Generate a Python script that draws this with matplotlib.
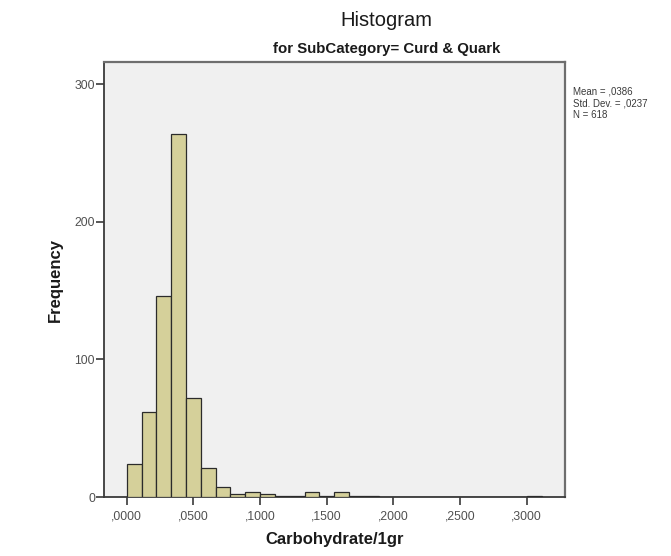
import numpy as np
import matplotlib
matplotlib.use("Agg")
import matplotlib.pyplot as plt

plt.rcParams['font.family'] = ['Liberation Sans', 'DejaVu Sans']

# histogram bins: first edge and width in g carbohydrate per g product
bin_start = 0.0
bin_width = 0.01112
counts = [24, 62, 146, 264, 72, 21, 7, 2, 4, 2,
          1, 1, 4, 1, 4, 1, 1, 0, 0, 0,
          0, 0, 0, 0, 0, 0, 0, 1]

x_ticks = [0.0, 0.05, 0.10, 0.15, 0.20, 0.25, 0.30]
x_ticklabels = [",0000", ",0500", ",1000", ",1500", ",2000", ",2500", ",3000"]
y_ticks = [0, 100, 200, 300]

stats_lines = ["Mean = ,0386", "Std. Dev. = ,0237", "N = 618"]

fig = plt.figure(figsize=(6.71, 5.56), dpi=100)
fig.patch.set_facecolor('white')
ax = fig.add_axes([0.155, 0.106, 0.687, 0.7825])
ax.set_facecolor('#f0f0f0')

lefts = bin_start + np.arange(len(counts)) * bin_width
ax.bar(lefts, counts, width=bin_width, align='edge',
       color='#d5d09a', edgecolor='#2b2b2b', linewidth=0.9, zorder=3)

ax.set_xlim(-0.017, 0.3287)
ax.set_ylim(0, 316)
ax.set_xticks(x_ticks)
ax.set_xticklabels(x_ticklabels)
ax.set_yticks(y_ticks)

ax.tick_params(axis='both', direction='out', length=5.5, width=1.2,
               color='#3a3a3a', labelsize=8.8, labelcolor='#505050', pad=1)
ax.tick_params(axis='x', pad=4)

for side in ['left', 'bottom']:
    ax.spines[side].set_color('#3a3a3a')
    ax.spines[side].set_linewidth(1.3)
for side in ['top', 'right']:
    ax.spines[side].set_color('#6e6e6e')
    ax.spines[side].set_linewidth(1.6)

ax.set_xlabel('Carbohydrate/1gr', fontsize=12, fontweight='bold',
              color='#1a1a1a')
ax.set_ylabel('Frequency', fontsize=12, fontweight='bold',
              color='#1a1a1a')
ax.xaxis.set_label_coords((335 - 104) / 461, -(532 - 497) / 435)
ax.yaxis.set_label_coords((63 - 104) / 461, (497 - 279.5) / 435)

fig.text(386 / 671, 1 - 20 / 556, 'Histogram', ha='center', va='center',
         fontsize=14.5, color='#1a1a1a')
fig.text(387 / 671, 1 - 49 / 556, 'for SubCategory= Curd & Quark',
         ha='center', va='center', fontsize=10.8, fontweight='bold',
         color='#1a1a1a')

fig.text(573 / 671, 1 - 87 / 556, '\n'.join(stats_lines), ha='left', va='top',
         fontsize=7, color='#3a3a3a', linespacing=1.2)

fig.savefig('out.png', dpi=100)
